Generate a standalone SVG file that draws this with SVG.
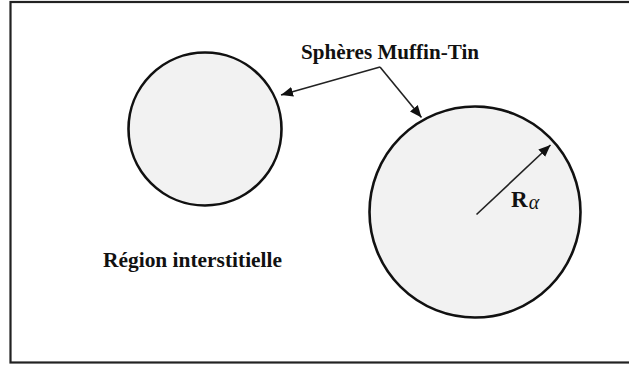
<svg xmlns="http://www.w3.org/2000/svg" width="629" height="365" viewBox="0 0 629 365">
<defs>
<style>
.sphere{fill:#f2f2f2;stroke:#111;stroke-width:2.6}
.conn{stroke:#222;stroke-width:1.6;fill:none}
.lbl{font-family:"Liberation Serif","Times New Roman",serif;font-weight:bold;font-size:21.5px;fill:#111}
</style>
<marker id="ah" viewBox="0 0 12 10" refX="12" refY="5" markerWidth="12" markerHeight="10" markerUnits="userSpaceOnUse" orient="auto">
<path d="M0,0 L12,5 L0,10 Z" fill="#111"/>
</marker>
</defs>
<rect x="0" y="0" width="629" height="365" fill="#fff"/>
<rect id="frame" x="10.5" y="2" width="640" height="360.5" fill="none" stroke="#222" stroke-width="2.2"/>
<g id="sphere1"><circle class="sphere" cx="205" cy="129" r="76.5"/></g>
<g id="sphere2"><circle class="sphere" cx="475" cy="212" r="105.5"/></g>
<g id="connectors">
<line class="conn" x1="380" y1="67" x2="281" y2="95" marker-end="url(#ah)"/>
<line class="conn" x1="380" y1="67" x2="421.5" y2="117.5" marker-end="url(#ah)"/>
<line class="conn" x1="476.5" y1="214.5" x2="550.5" y2="145" marker-end="url(#ah)"/>
</g>
<g id="label-spheres"><text class="lbl" x="301" y="58.5" textLength="178" lengthAdjust="spacingAndGlyphs">Sphères Muffin-Tin</text></g>
<g id="label-region"><text class="lbl" x="103" y="266.5" textLength="179" lengthAdjust="spacingAndGlyphs">Région interstitielle</text></g>
<g id="label-radius"><text class="lbl" x="511" y="206.5" style="font-size:23px">R<tspan style="font-style:italic;font-weight:normal;font-size:20px" dx="1" dy="2.5">α</tspan></text></g>
</svg>
